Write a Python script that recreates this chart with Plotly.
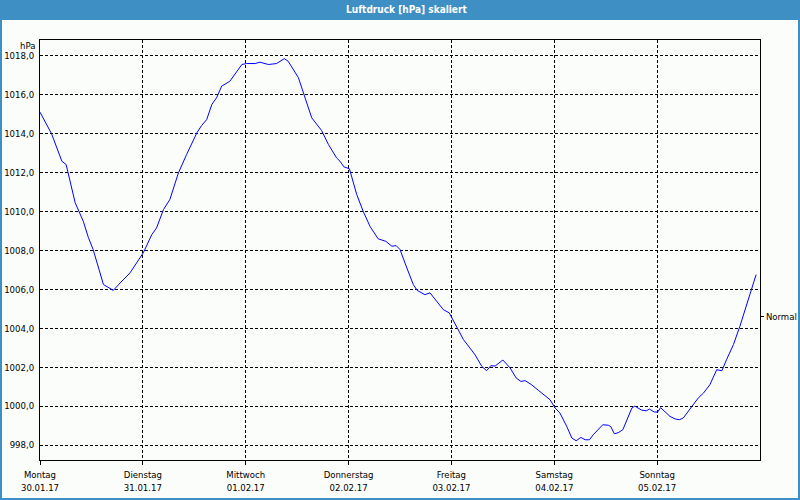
import plotly.graph_objects as go

# Hours since Montag 30.01.17 00:00
hours = [0, 2.7, 5.1, 6.1, 8.2, 10.1, 11.3, 12.4, 14.8, 17.1, 18.7, 21.0, 24.1, 26.1, 27.2,
         28.8, 30.3, 32.3, 34.2, 36.6, 37.7, 38.9, 40.1, 41.2, 42.4, 44.3, 47.1, 48.2, 50.2,
         51.3, 53.3, 55.2, 57.0, 57.9, 60.3, 61.8, 63.4, 65.7, 67.3, 69.2, 70.0, 70.9, 72.2,
         73.9, 75.4, 77.0, 77.8, 78.9, 80.7, 82.1, 83.1, 84.0, 85.6, 87.1, 88.0, 89.8, 91.0,
         92.2, 94.1, 95.5, 97.2, 98.8, 100.3, 101.5, 103.1, 104.2, 105.2, 106.2, 108.0, 109.7,
         111.1, 112.2, 113.2, 114.7, 116.3, 117.8, 119.0, 120.2, 121.3, 122.9, 124.1, 125.1,
         126.2, 127.2, 128.2, 129.1, 130.7, 131.3, 132.6, 133.2, 134.0, 134.9, 136.0, 136.9,
         138.1, 138.8, 140.4, 141.5, 142.2, 143.3, 144.1, 144.8, 145.8, 147.0, 148.2, 149.2,
         150.1, 151.0, 152.3, 153.6, 154.8, 156.3, 157.9, 159.1, 160.2, 161.8, 163.3, 164.5,
         165.7, 167.1]
pressure = [1015.11, 1014.00, 1012.59, 1012.42, 1010.46, 1009.50, 1008.66, 1008.05, 1006.25,
            1005.95, 1006.33, 1006.85, 1007.88, 1008.82, 1009.16, 1010.10, 1010.62, 1011.99,
            1012.93, 1014.05, 1014.42, 1014.73, 1015.51, 1015.85, 1016.45, 1016.70, 1017.56,
            1017.61, 1017.61, 1017.68, 1017.56, 1017.61, 1017.86, 1017.73, 1016.88, 1015.87,
            1014.82, 1014.17, 1013.45, 1012.76, 1012.59, 1012.30, 1012.20, 1010.88, 1010.02,
            1009.24, 1008.99, 1008.60, 1008.47, 1008.22, 1008.25, 1008.05, 1007.10, 1006.25,
            1005.95, 1005.73, 1005.82, 1005.47, 1004.96, 1004.79, 1004.10, 1003.42, 1002.99,
            1002.64, 1002.04, 1001.82, 1002.08, 1002.06, 1002.37, 1001.96, 1001.45, 1001.27,
            1001.31, 1001.10, 1000.81, 1000.54, 1000.33, 999.90, 999.65, 998.96, 998.36,
            998.22, 998.39, 998.27, 998.27, 998.53, 998.87, 999.04, 999.02, 998.94, 998.58,
            998.63, 998.79, 999.30, 999.90, 1000.00, 999.79, 999.76, 999.85, 999.70, 999.69,
            999.92, 999.73, 999.47, 999.34, 999.30, 999.39, 999.65, 1000.07, 1000.42, 1000.67,
            1001.10, 1001.87, 1001.82, 1002.39, 1003.16, 1004.10, 1004.96, 1005.82, 1006.76]

day_names = ["Montag", "Dienstag", "Mittwoch", "Donnerstag", "Freitag", "Samstag", "Sonntag"]
day_dates = ["30.01.17", "31.01.17", "01.02.17", "02.02.17", "03.02.17", "04.02.17", "05.02.17"]
day_hours = [0, 24, 48, 72, 96, 120, 144]
y_ticks = [998, 1000, 1002, 1004, 1006, 1008, 1010, 1012, 1014, 1016, 1018]
normal_value = 1004.6
x_range = [0, 168]
y_range = [997.23, 1018.82]

FONT = "DejaVu Sans Condensed, Liberation Sans, sans-serif"
FS = 9.5
BLUE = "#3d8fc4"

fig = go.Figure()
fig.add_trace(go.Scatter(x=hours, y=pressure, mode="lines",
                         line=dict(color="#0000ff", width=1), showlegend=False,
                         hoverinfo="skip"))
# invisible trace for the right axis
fig.add_trace(go.Scatter(x=[x_range[0]], y=[normal_value], yaxis="y2", mode="markers",
                         marker=dict(opacity=0), showlegend=False, hoverinfo="skip"))

fig.update_layout(
    width=800, height=500,
    margin=dict(l=40, r=40, t=40, b=40, autoexpand=False),
    paper_bgcolor="#fbfdfb", plot_bgcolor="#fbfdfb",
    separators=",.",
    font=dict(family=FONT, size=FS, color="#000000"),
    title=dict(text="<b>Luftdruck [hPa] skaliert</b>", x=0.508, xanchor="center",
               y=0.982, yanchor="middle",
               font=dict(family=FONT, size=10, color="#ffffff")),
    xaxis=dict(range=x_range, tickvals=day_hours,
               ticktext=[f"{n}<br>{d}" for n, d in zip(day_names, day_dates)],
               showgrid=True, gridcolor="#000000", gridwidth=1, griddash="3px,2px",
               showline=True, mirror=True, linecolor="#000000", linewidth=1,
               ticks="outside", ticklen=4, tickcolor="#000000", zeroline=False,
               ticklabelstandoff=2,
               tickfont=dict(family=FONT, size=FS)),
    yaxis=dict(range=y_range, tickvals=y_ticks, tickformat=".1f",
               showgrid=True, gridcolor="#000000", gridwidth=1, griddash="3px,2px",
               showline=True, mirror=True, linecolor="#000000", linewidth=1,
               ticks="", zeroline=False, ticklabelstandoff=3,
               tickfont=dict(family=FONT, size=FS)),
    yaxis2=dict(range=y_range, overlaying="y", side="right", tickvals=[normal_value],
                ticktext=["Normal"], ticks="outside", ticklen=3, tickcolor="#000000",
                showgrid=False, zeroline=False, showline=False,
                tickfont=dict(family=FONT, size=FS)),
    shapes=[
        dict(type="rect", xref="paper", yref="paper", x0=-40/720, x1=1+40/720,
             y0=1+20/420, y1=1+40/420, fillcolor=BLUE, line=dict(width=0), layer="below"),
        dict(type="rect", xref="paper", yref="paper", x0=-39/720, x1=1+39/720,
             y0=-39/420, y1=1+39/420, fillcolor="rgba(0,0,0,0)",
             line=dict(color=BLUE, width=2)),
    ],
    annotations=[
        dict(text="hPa", xref="paper", yref="paper", x=0, y=1, xanchor="right",
             yanchor="middle", xshift=-3, yshift=-5, showarrow=False,
             font=dict(family=FONT, size=FS)),
    ],
)

fig.write_html("out.html")
